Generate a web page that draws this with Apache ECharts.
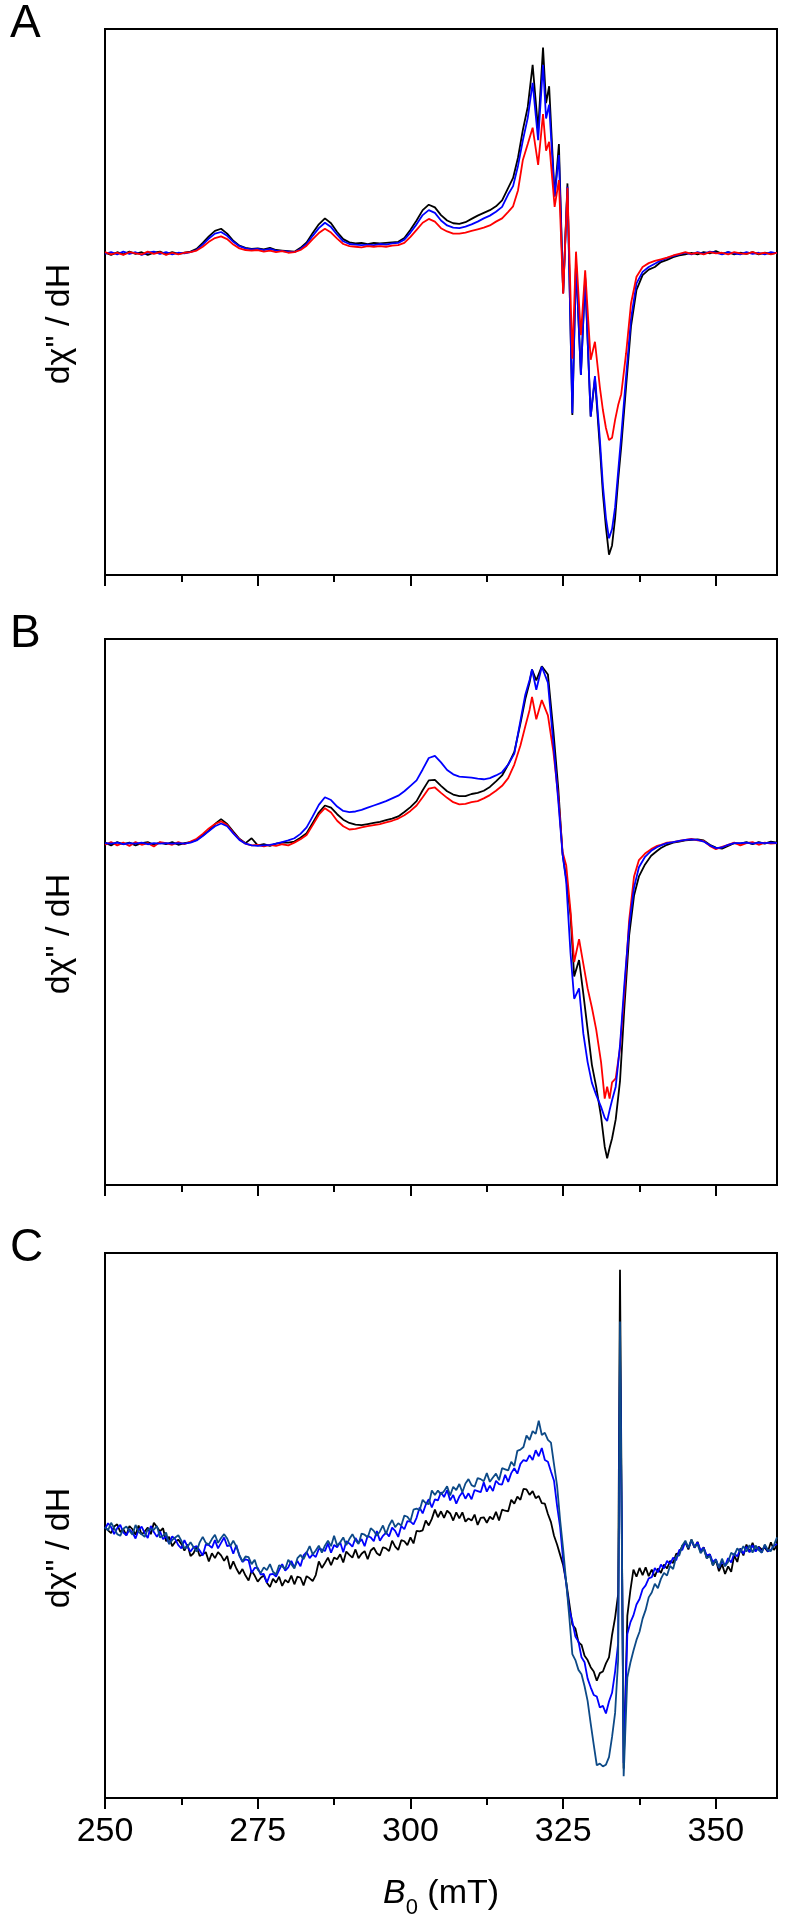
<!DOCTYPE html>
<html><head><meta charset="utf-8">
<script src="https://cdn.jsdelivr.net/npm/echarts@6/dist/echarts.min.js"></script>
<style>html,body{margin:0;padding:0;background:#fff}#main{width:789px;height:1920px}</style>
</head><body><div id="main"></div>
<script>
// ---------- Panel A ----------
const fieldA = [250,251,252,253,254,255,256,257,258,259,
260,261,262,263,264,265,266,267,268,269,
270,271,272,273,274,275,276,277,278,279,
280,281,282,283,284,285,286,287,288,289,
290,291,292,293,294,295,296,297,298,299,
300,301,302,303,304,305,306,307,308,309,
310,311,312,313,314,315,316,
316.8,317.6,318.4,319.2,320,320.9,321.7,322.2,322.7,323.6,324.3,325,325.7,326.5,327.1,327.9,328.6,329.5,330.2,331,331.5,332,332.5,333,333.5,334,334.5,335.3,336.1,337,338,339,340,341,
342,343,344,345,346,347,348,349,350,351,352,353,354,355,356,357,358,359,360];
const aBlack = [0.1,-0.3,0.2,-0.2,0.3,-0.1,0.2,-0.3,0.1,0.3,
-0.2,0.2,-0.1,0.1,0.3,0.8,1.9,3.1,4.1,4.5,
3.6,2.3,1.4,1.0,0.8,0.9,0.7,1.0,0.6,0.5,
0.4,0.3,1.0,2.0,3.7,5.3,6.4,5.5,3.9,2.6,
2.0,1.8,1.9,1.7,1.9,1.8,1.9,2.0,2.1,2.8,
4.3,6.0,7.9,8.9,8.4,7.0,6.0,5.5,5.4,5.7,
6.3,6.9,7.4,7.9,8.6,9.7,12.0,
13.8,17.5,22.6,26.8,34.5,22.6,37.7,27.5,30.6,10.4,20.0,-7.3,12.8,-29.6,-1.8,-22.3,-4.6,-29.9,-22.9,-35.5,-44.0,-50.2,-55.2,-53.5,-48.5,-41.5,-35.4,-24.4,-13.4,-6.7,-4.0,-3.0,-2.5,-1.6,
-1.2,-0.7,-0.4,-0.2,0.1,-0.2,0.2,0.0,0.4,-0.1,0.2,-0.2,0.1,-0.1,0.2,-0.2,0.1,-0.1,0.1];
const aBlue = [-0.1,0.2,-0.2,0.3,-0.1,0.2,-0.3,0.1,0.3,-0.1,
0.2,-0.2,0.1,0.0,0.2,0.6,1.6,2.7,3.6,3.9,
3.2,2.1,1.3,0.9,0.7,0.8,0.6,0.8,0.5,0.4,
0.3,0.2,0.8,1.7,3.2,4.6,5.6,4.8,3.4,2.2,
1.7,1.6,1.5,1.6,1.5,1.7,1.6,1.8,1.9,2.5,
3.8,5.3,7.0,7.9,7.4,6.0,5.1,4.7,4.6,4.9,
5.3,5.8,6.4,6.9,7.6,8.5,10.8,
12.3,16.0,20.7,24.8,31.2,20.7,34.5,24.7,27.2,10.4,18.0,-7.3,12.2,-29.3,-1.5,-22.3,-4.4,-29.9,-22.5,-34.0,-42.5,-48.5,-52.2,-50.5,-46.5,-40.0,-33.5,-22.5,-12.0,-5.5,-3.4,-2.5,-1.9,-1.3,
-0.9,-0.5,-0.2,0.1,-0.2,0.2,-0.1,0.3,0.1,-0.2,0.2,0.0,-0.2,0.2,-0.1,0.1,-0.2,0.2,0.0];
const aRed = [0.2,-0.2,0.1,-0.3,0.2,0.0,-0.2,0.3,-0.1,0.2,
-0.3,0.1,-0.2,0.1,0.2,0.5,1.2,2.1,2.8,3.1,
2.6,1.6,0.9,0.6,0.5,0.6,0.3,0.5,0.2,0.4,
0.1,0.2,0.6,1.4,2.6,3.7,4.5,3.8,2.7,1.7,
1.3,1.2,1.1,1.3,1.2,1.3,1.2,1.4,1.5,1.9,
3.0,4.3,5.6,6.3,5.8,4.6,4.0,3.6,3.6,3.8,
4.1,4.4,4.7,5.1,5.8,6.4,7.6,
8.6,11.5,17.1,20.0,23.0,16.2,25.5,18.8,20.4,8.5,13.4,-7.4,12.0,-19.3,0.3,-15.0,-3.1,-19.5,-16.2,-24.5,-28.7,-32.0,-34.2,-33.8,-30.5,-27.8,-25.8,-18.3,-9.2,-4.3,-2.5,-1.8,-1.4,-1.1,
-0.8,-0.4,-0.1,0.2,-0.1,0.1,-0.2,0.2,0.0,0.1,-0.2,0.2,0.0,-0.1,0.2,-0.1,0.1,-0.2,0.1];

// ---------- Panel B ----------
const fieldB = [250,251,252,253,254,255,256,257,258,259,
260,261,262,263,264,265,266,267,268,269,
270,271,272,273,274,275,276,277,278,279,
280,281,282,283,284,285,286,287,288,289,
290,291,292,293,294,295,296,297,298,299,
300,301,302,303,304,305,306,307,308,309,
310,311,312,313,314,
315,316,317,318,318.8,319.5,319.9,320.6,321.5,322.5,323.4,324.2,324.9,325.5,326.2,326.8,327.6,328.3,329,329.7,330.4,331.2,331.8,332.2,332.6,333,333.6,334.3,335,335.8,336.6,337.4,338.4,339.4,340.4,
341,342,343,344,345,346,347,348,349,350,351,352,353,354,355,356,357,358,359,360];
const bBlack = [0.2,-0.3,0.3,-0.1,0.2,-0.3,0.1,0.3,-0.2,0.2,
-0.1,0.3,-0.2,0.1,0.3,0.7,1.5,2.4,3.6,4.5,
3.6,2.2,0.9,0.1,1.0,-0.3,-0.1,-0.4,0.0,0.2,
0.2,0.4,1.1,1.9,3.8,5.7,7.0,6.6,5.4,4.4,
3.8,3.5,3.4,3.6,3.8,4.0,4.3,4.6,5.0,5.8,
6.7,7.8,9.8,11.6,11.7,10.6,9.6,9.0,8.7,8.7,
9.1,9.3,9.7,10.4,11.4,
12.5,14.5,16.8,22.0,26.5,29.5,31.9,29.9,32.5,31.0,20.6,10.1,-1.9,-6.4,-13.1,-24.3,-21.3,-27.5,-34.0,-40.5,-44.5,-50.0,-55.5,-57.6,-55.7,-54.0,-50.5,-43.5,-30.3,-16.8,-9.5,-6.0,-3.8,-2.2,-1.3,
-0.8,-0.2,0.2,0.4,0.6,0.7,0.8,0.6,-0.2,-0.7,-0.9,-0.4,0.1,0.0,0.3,-0.1,0.3,0.0,0.4,0.2];
const bRed = [-0.2,0.3,-0.3,0.2,-0.4,0.3,-0.2,0.1,-0.5,0.3,
0.1,-0.2,0.3,-0.1,0.4,0.9,1.8,2.8,3.6,4.1,
3.4,2.0,0.8,0.0,-0.3,-0.2,-0.5,-0.2,-0.4,-0.1,
-0.3,0.2,0.8,1.6,3.4,5.3,6.5,5.7,4.2,3.2,
2.6,2.7,3.0,3.2,3.4,3.6,3.9,4.2,4.6,5.2,
6.0,7.0,8.5,10.1,10.3,9.3,8.4,7.6,7.2,7.3,
7.6,7.8,8.3,8.9,9.7,
10.6,12.0,14.5,18.0,21.5,24.5,26.9,22.8,26.3,23.5,16.8,8.6,-1.5,-4.0,-12.3,-21.7,-17.5,-22.0,-26.5,-30.0,-34.0,-40.0,-46.7,-44.5,-46.7,-43.7,-43.0,-37.5,-27.5,-14.0,-6.0,-3.0,-1.8,-1.0,-0.4,
-0.2,0.2,0.3,0.5,0.7,0.9,0.6,0.5,-0.4,-1.0,-0.6,-0.2,0.2,-0.3,0.1,0.3,-0.2,0.2,0.0,0.1];
const bBlue = [0.1,0.0,0.2,-0.1,0.1,0.0,0.2,-0.1,0.1,0.0,
0.1,0.0,0.1,0.0,0.2,0.6,1.4,2.3,3.2,3.7,
3.2,1.9,0.7,0.0,-0.3,-0.4,-0.3,-0.2,0.0,0.3,
0.6,1.0,1.8,3.0,5.0,7.1,8.5,8.0,6.8,6.0,
5.8,5.9,6.2,6.6,7.0,7.4,7.8,8.3,8.8,9.6,
10.6,11.6,13.6,15.7,16.1,14.9,13.5,12.7,12.3,12.2,
12.1,11.9,11.8,12.0,12.5,
13.1,14.5,16.5,22.5,27.3,30.0,31.9,28.2,32.4,29.5,18.3,7.8,-1.9,-7.0,-20.0,-28.4,-26.5,-34.8,-40.0,-43.8,-46.0,-48.2,-50.2,-50.8,-48.8,-47.0,-44.5,-37.0,-26.0,-15.0,-8.0,-4.3,-2.4,-1.3,-0.6,
-0.3,0.1,0.3,0.5,0.7,0.8,0.7,0.4,-0.3,-0.8,-0.7,-0.2,0.1,0.1,0.2,0.0,0.2,0.1,0.2,0.1];

// ---------- Panel C ----------
const fieldC = [250,250.5,251,251.5,252,252.5,253,253.5,254,254.5,255,255.5,256,256.5,257,257.5,258,258.5,259,259.5,
260,260.5,261,261.5,262,262.5,263,263.5,264,264.5,265,265.5,266,266.5,267,267.5,268,268.5,269,269.5,
270,270.5,271,271.5,272,272.5,273,273.5,274,274.5,275,275.5,276,276.5,277,277.5,278,278.5,279,279.5,
280,280.5,281,281.5,282,282.5,283,283.5,284,284.5,285,285.5,286,286.5,287,287.5,288,288.5,289,289.5,
290,290.5,291,291.5,292,292.5,293,293.5,294,294.5,295,295.5,296,296.5,297,297.5,298,298.5,299,299.5,
300,300.5,301,301.5,302,302.5,303,303.5,304,304.5,305,305.5,306,306.5,307,307.5,308,308.5,309,309.5,
310,310.5,311,311.5,312,312.5,313,313.5,314,314.5,315,315.5,316,316.5,317,317.5,318,318.5,319,319.5,
320,320.5,321,321.5,322,322.5,323,323.5,324,324.5,325,325.5,326,326.5,327,327.5,328,328.5,329,329.5,
330,330.5,331,331.5,332,332.5,333,333.5,334,
334.3,334.6,334.9,
335.5,336,336.5,337,337.5,338,338.5,339,339.5,
340,340.5,341,341.5,342,342.5,343,343.5,344,344.5,345,345.5,346,346.5,347,347.5,348,348.5,349,349.5,
350,350.5,351,351.5,352,352.5,353,353.5,354,354.5,355,355.5,356,356.5,357,357.5,358,358.5,359,359.5,
360];
const cBlack = [0.3,-0.3,-0.8,0.4,0.8,-0.6,-0.1,-1.2,0.5,-0.1,-1.1,0.6,-1.1,-0.5,0.2,-1.0,1.1,0.3,-0.5,0.1,
-2.3,-1.5,-3.2,-2.4,-2.0,-2.8,-4.0,-2.9,-5.0,-4.5,-3.3,-5.0,-4.7,-4.3,-6.0,-4.5,-5.4,-4.3,-4.9,-5.9,
-5.0,-7.4,-6.0,-7.3,-8.3,-7.4,-8.6,-9.5,-7.7,-8.6,-9.7,-9.0,-8.6,-9.9,-10.7,-9.2,-9.9,-8.8,-10.5,-9.4,
-9.9,-8.6,-10.2,-8.8,-9.0,-10.4,-8.7,-9.1,-9.6,-8.5,-6.0,-7.2,-6.3,-5.3,-6.7,-5.3,-5.6,-4.7,-6.2,-4.2,
-4.8,-5.3,-3.8,-5.4,-4.6,-4.1,-5.6,-4.0,-3.5,-4.5,-4.9,-3.4,-3.6,-4.1,-2.2,-3.3,-3.9,-2.1,-2.3,-3.0,
-1.6,-2.7,-0.4,-0.5,-0.3,1.5,0.6,1.8,3.5,2.1,3.2,2.0,3.3,2.8,1.5,3.0,1.9,3.0,1.3,1.9,
1.5,2.6,0.7,2.0,2.1,1.1,2.2,1.7,3.1,1.5,3.5,3.3,3.2,5.3,4.6,5.9,5.3,7.3,7.2,6.2,
6.9,5.6,6.0,4.7,4.6,2.7,1.2,-1.3,-2.9,-4.8,-6.7,-9.8,-13.7,-17.6,-18.3,-20.8,-21.3,-23.3,-24.1,-25.4,
-26.2,-27.9,-26.5,-26.2,-24.7,-23.6,-19.5,-16.3,-12.0,
47.5,0.0,-44.0,
-16.0,-11.3,-7.5,-8.8,-7.2,-8.5,-7.1,-8.7,-7.5,
-8.8,-7.3,-8.1,-6.6,-7.3,-5.9,-6.3,-4.6,-4.5,-3.1,-2.5,-3.8,-2.0,-3.5,-2.4,-4.3,-3.4,-5.4,-4.7,-6.7,
-5.8,-7.8,-6.5,-8.3,-6.9,-7.9,-4.9,-6.1,-3.6,-4.9,-2.9,-4.3,-2.6,-4.1,-3.3,-3.8,-3.5,-4.2,-2.5,-3.9,
-3.0];
const cBlue = [0.0,1.0,0.3,-1.0,0.1,0.7,-0.7,-1.2,-0.1,-0.7,-1.8,-0.2,0.4,-0.8,-1.7,0.5,-0.6,-1.5,-0.5,-1.9,
-1.4,-2.8,-1.4,-1.9,-3.0,-3.6,-2.1,-3.3,-4.2,-3.4,-3.2,-4.0,-4.9,-2.9,-3.0,-3.5,-2.1,-3.6,-2.6,-1.6,
-3.2,-3.0,-4.6,-3.0,-5.0,-6.1,-5.6,-5.8,-8.1,-7.2,-7.2,-8.4,-8.3,-9.9,-8.4,-8.3,-8.8,-7.6,-6.5,-7.7,
-7.1,-5.9,-7.1,-5.9,-6.9,-4.9,-4.3,-5.4,-4.7,-5.2,-3.7,-3.8,-4.1,-2.7,-4.4,-3.0,-3.4,-2.5,-4.3,-2.3,
-2.7,-3.3,-1.7,-2.6,-1.9,-3.2,-1.3,-1.6,-2.3,-0.4,-2.2,-1.3,-0.7,-1.4,0.2,-0.4,-1.5,0.5,-0.1,1.4,
1.3,0.8,2.0,3.9,2.8,4.4,5.4,3.9,5.4,5.2,6.7,5.8,7.1,5.2,6.2,4.6,5.9,6.7,5.5,6.5,
5.4,7.1,6.9,6.7,8.5,6.8,7.9,6.9,8.8,8.2,8.1,9.9,8.6,10.2,11.1,10.1,11.9,12.6,12.4,13.5,
12.6,14.4,13.3,14.8,12.6,12.3,10.5,8.8,4.2,0.3,-5.8,-10.1,-14.8,-17.0,-19.8,-20.7,-23.6,-24.5,-27.5,-29.1,
-30.5,-30.8,-32.8,-32.5,-33.9,-31.7,-30.1,-26.2,-21.0,
33.0,-1.0,-43.0,
-19.3,-17.2,-15.9,-13.9,-12.9,-11.1,-10.4,-9.1,-8.9,
-7.2,-8.0,-6.6,-7.3,-5.9,-6.5,-5.3,-5.8,-3.9,-3.9,-2.4,-3.5,-2.2,-3.4,-2.5,-4.0,-3.5,-4.9,-4.7,-6.1,
-5.6,-7.2,-6.0,-6.8,-5.4,-6.2,-4.5,-5.1,-3.7,-4.6,-3.3,-4.3,-3.0,-4.2,-3.4,-4.4,-3.0,-4.1,-3.9,-3.1,
-2.8];
const cNavy = [0.3,-0.3,1.1,0.1,-1.0,-1.3,0.0,0.4,-0.4,-1.1,0.7,-0.6,-1.0,-1.5,-0.1,-0.1,-0.2,0.5,-1.6,-1.3,
-0.7,-2.8,-2.1,-1.6,-1.2,-2.2,-3.6,-3.3,-2.5,-3.4,-4.2,-2.5,-1.5,-2.6,-2.9,-1.9,-1.1,-2.6,-1.7,-1.0,
-1.8,-3.2,-2.2,-3.3,-4.8,-6.0,-5.1,-5.2,-6.5,-5.7,-7.5,-8.1,-7.1,-7.6,-6.5,-7.9,-8.4,-6.7,-6.9,-7.4,
-5.7,-6.5,-7.3,-5.4,-4.8,-5.6,-4.4,-3.2,-4.7,-4.0,-3.1,-4.4,-3.1,-2.2,-3.2,-1.3,-3.1,-2.5,-1.6,-3.0,
-1.9,-1.0,-2.1,-2.8,-0.9,-1.1,-1.6,0.1,-0.4,-1.3,-0.5,0.6,-1.0,0.6,1.6,0.3,1.0,0.6,2.4,2.2,
1.4,3.5,3.7,3.4,5.3,4.7,4.5,7.0,6.2,7.0,6.3,6.9,7.8,6.1,7.7,7.1,8.2,6.7,8.3,9.1,
8.0,7.7,9.3,9.1,8.7,10.2,8.6,9.4,10.1,8.9,11.1,10.9,10.7,12.3,11.5,14.3,14.5,15.0,17.1,16.3,
17.9,17.4,19.8,17.2,17.6,16.3,15.8,11.8,7.9,1.6,-3.8,-9.9,-16.2,-23.0,-24.1,-25.9,-26.7,-28.9,-31.6,-35.7,
-39.6,-43.4,-43.1,-43.6,-43.3,-41.9,-38.2,-33.8,-24.0,
38.0,-2.0,-45.4,
-27.3,-24.6,-22.4,-20.4,-18.9,-16.5,-14.9,-12.6,-11.7,
-10.1,-10.9,-9.2,-8.1,-8.6,-6.8,-7.4,-5.1,-4.9,-3.1,-2.2,-3.5,-2.0,-3.3,-2.9,-4.5,-3.7,-5.4,-5.0,-6.7,
-5.7,-7.1,-5.5,-6.9,-6.1,-4.4,-4.9,-3.6,-4.3,-3.2,-4.2,-3.0,-4.4,-3.1,-3.9,-4.4,-2.9,-3.9,-4.1,-3.0,
-1.6];

// ---------- Axis / text content ----------
const majorTicks = [250, 275, 300, 325, 350];
const minorTicks = [262.5, 287.5, 312.5, 337.5];
const panelLetters = ['A', 'B', 'C'];
const yTitle = 'd\u03C7" / dH';
const yRanges = [[-58.92, 41.08], [-62.51, 37.49], [-49.41, 50.59]];

const FONT = '"Liberation Sans", Arial, sans-serif';
const gridTops = [29, 639, 1253];
const GH = 546, GL = 105, GW = 672;

function pairs(xs, ys) { return xs.map((x, i) => [x, ys[i]]); }

const grids = [], xAxes = [], yAxes = [], series = [], graphics = [];
gridTops.forEach((top, i) => {
  grids.push({left: GL, top: top, width: GW, height: GH, show: true,
    borderColor: '#000', borderWidth: 2, backgroundColor: 'rgba(0,0,0,0)'});
  const isLast = i === 2;
  xAxes.push({
    type: 'value', gridIndex: i, min: 250, max: 360, position: 'bottom',
    axisLine: {show: true, onZero: false, lineStyle: {color: '#000', width: 2}},
    axisTick: {show: true, inside: false, length: 11, customValues: majorTicks,
      lineStyle: {color: '#000', width: 2}},
    axisLabel: {show: isLast, customValues: majorTicks, color: '#000', fontSize: 34,
      fontFamily: FONT, margin: 17},
    splitLine: {show: false},
    name: isLast ? '{it|B}{sub|0}{n| (mT)}' : '',
    nameLocation: 'middle', nameGap: 71,
    nameTextStyle: {color: '#000', fontFamily: FONT,
      rich: {
        it: {fontStyle: 'italic', fontSize: 34, fontFamily: FONT, color: '#000', lineHeight: 50},
        n: {fontSize: 34, fontFamily: FONT, color: '#000', lineHeight: 50},
        sub: {fontSize: 22, fontFamily: FONT, color: '#000', lineHeight: 22, verticalAlign: 'bottom'}
      }}
  });
  xAxes.push({
    type: 'value', gridIndex: i, min: 250, max: 360, position: 'bottom',
    axisLine: {show: false, onZero: false},
    axisTick: {show: true, inside: false, length: 7, customValues: minorTicks,
      lineStyle: {color: '#000', width: 2}},
    axisLabel: {show: false}, splitLine: {show: false}
  });
  yAxes.push({type: 'value', gridIndex: i, min: yRanges[i][0], max: yRanges[i][1],
    show: false, splitLine: {show: false}});
  graphics.push({type: 'text', x: 10, y: top - 5, style: {text: panelLetters[i],
    font: '46px ' + FONT, fill: '#000', align: 'left', verticalAlign: 'middle'}});
  graphics.push({type: 'text', x: 60, y: top + GH / 2 + 22, rotation: Math.PI / 2,
    style: {text: yTitle, font: '34px ' + FONT, fill: '#000', align: 'center', verticalAlign: 'middle'}});
});

function line(name, xi, yi, xs, ys, color) {
  return {name: name, type: 'line', xAxisIndex: xi, yAxisIndex: yi, data: pairs(xs, ys),
    showSymbol: false, symbol: 'none', lineStyle: {color: color, width: 1.8}, itemStyle: {color: color},
    clip: true, animation: false};
}
series.push(line('A black', 0, 0, fieldA, aBlack, '#000000'));
series.push(line('A blue', 0, 0, fieldA, aBlue, '#0000ff'));
series.push(line('A red', 0, 0, fieldA, aRed, '#ff0000'));
series.push(line('B black', 2, 1, fieldB, bBlack, '#000000'));
series.push(line('B red', 2, 1, fieldB, bRed, '#ff0000'));
series.push(line('B blue', 2, 1, fieldB, bBlue, '#0000ff'));
series.push(line('C black', 4, 2, fieldC, cBlack, '#000000'));
series.push(line('C blue', 4, 2, fieldC, cBlue, '#0000ff'));
series.push(line('C navy', 4, 2, fieldC, cNavy, '#0d4a87'));

const chart = echarts.init(document.getElementById('main'), null, {renderer: 'canvas', width: 789, height: 1920});
chart.setOption({
  animation: false, backgroundColor: '#fff',
  grid: grids, xAxis: xAxes, yAxis: yAxes, series: series, graphic: graphics
});
</script></body></html>
